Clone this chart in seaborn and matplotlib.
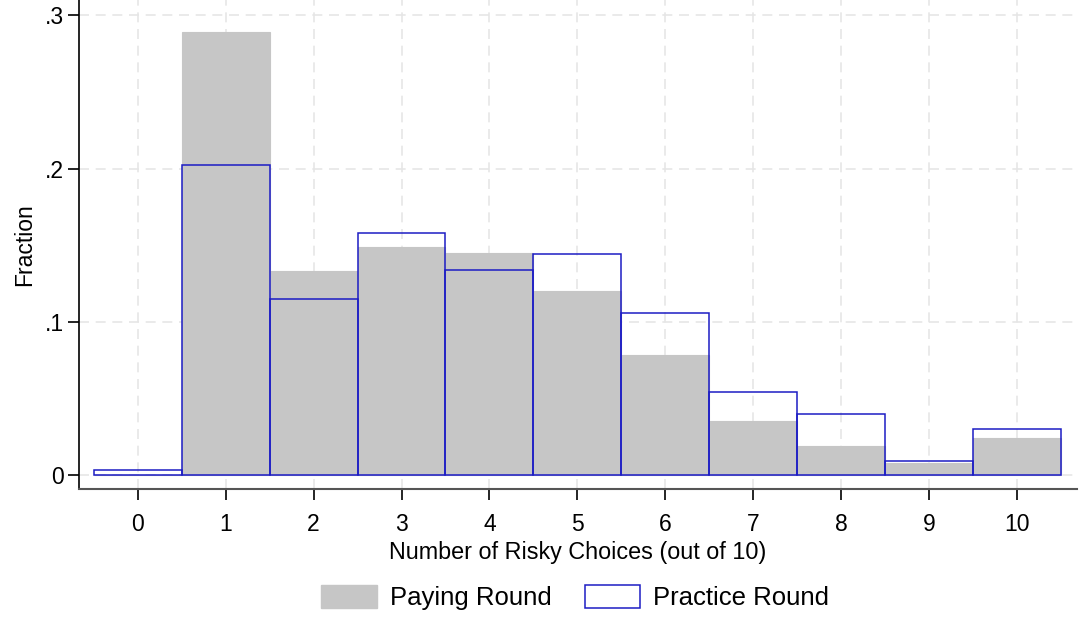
import numpy as np
import pandas as pd
import matplotlib
matplotlib.use("Agg")
import matplotlib.pyplot as plt
import seaborn as sns
from matplotlib.patches import Patch

# ── Data (fractions) ─────────────────────────────────────────────────────────
choices  = [0, 1, 2, 3, 4, 5, 6, 7, 8, 9, 10]
paying   = [0.0, 0.289, 0.133, 0.1485, 0.145, 0.120, 0.078, 0.035, 0.019, 0.008, 0.024]
practice = [0.003, 0.202, 0.115, 0.158, 0.134, 0.144, 0.1055, 0.054, 0.040, 0.0092, 0.030]
y_ticks  = [0, 0.1, 0.2, 0.3]
y_labels = ["0", ".1", ".2", ".3"]

GRAY = "#c6c6c6"
BLUE = "#1c1cc4"

sns.set_style("white")
plt.rcParams["font.family"] = ["Liberation Sans", "DejaVu Sans"]
plt.rcParams["text.color"] = "black"
plt.rcParams["axes.labelcolor"] = "black"

df = pd.DataFrame({"choices": choices, "paying": paying, "practice": practice})

fig = plt.figure(figsize=(10.81, 6.17), dpi=100)
ax = fig.add_axes([0.073, 0.2075, 0.923, 0.7925])

# grid first so bars sit on top
for t in y_ticks:
    ax.axhline(t, color="#e6e6e6", lw=1.2, ls=(0, (6, 4)), zorder=0)
for c in choices:
    ax.axvline(c, color="#e6e6e6", lw=1.2, ls=(0, (6, 4)), zorder=0)

sns.histplot(data=df, x="choices", weights="paying", discrete=True, stat="count",
             color=GRAY, edgecolor=GRAY, alpha=1, linewidth=0.8, ax=ax, zorder=2)
sns.histplot(data=df, x="choices", weights="practice", discrete=True, stat="count",
             fill=False, color=BLUE, linewidth=1.1, ax=ax, zorder=3)

ax.set_xlim(-0.67, 10.68)
ax.set_ylim(-0.0092, 0.31)
ax.set_xticks(choices)
ax.set_xticklabels([str(c) for c in choices])
ax.set_yticks(y_ticks)
ax.set_yticklabels(y_labels)
ax.tick_params(axis="both", bottom=True, left=True, labelsize=16.5, length=8,
               width=1.2, direction="out", color="black", labelcolor="black")
ax.tick_params(axis="x", pad=9)
ax.tick_params(axis="y", pad=3)

for side in ["top", "right"]:
    ax.spines[side].set_visible(False)
ax.spines["left"].set_color("black")
ax.spines["left"].set_linewidth(1.2)
ax.spines["bottom"].set_color("#555555")
ax.spines["bottom"].set_linewidth(1.5)

ax.set_xlabel("Number of Risky Choices (out of 10)", fontsize=16.8, labelpad=4)
ax.set_ylabel("Fraction", fontsize=16.5, labelpad=6)

handles = [Patch(facecolor=GRAY, edgecolor=GRAY, label="Paying Round"),
           Patch(facecolor="white", edgecolor=BLUE, linewidth=1.1, label="Practice Round")]
fig.legend(handles=handles, loc="center", bbox_to_anchor=(0.532, 0.032), ncol=2,
           frameon=False, fontsize=18.5, handlelength=2.15, handleheight=1.0,
           columnspacing=1.3, handletextpad=0.5)

fig.savefig("out.png", dpi=100)
